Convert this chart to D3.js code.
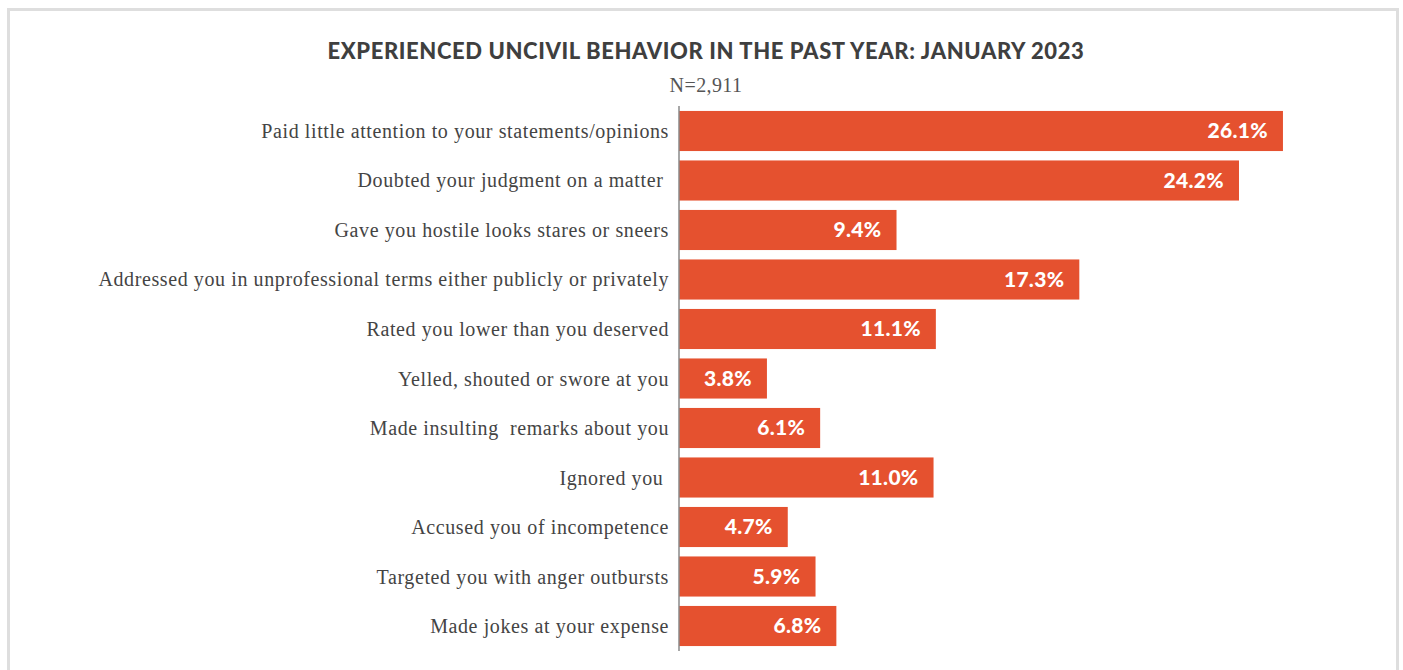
<!DOCTYPE html>
<html>
<head>
<meta charset="utf-8">
<script src="https://cdn.jsdelivr.net/npm/d3@7/dist/d3.min.js"></script>
<style>
  html, body { margin: 0; padding: 0; background: #ffffff; }
  svg { display: block; }
</style>
</head>
<body>
<svg id="chart" width="1403" height="670"></svg>
<script>
// Survey responses: share who experienced each uncivil behavior (%)
const categories = [
  "Paid little attention to your statements/opinions",
  "Doubted your judgment on a matter ",
  "Gave you hostile looks stares or sneers",
  "Addressed you in unprofessional terms either publicly or privately",
  "Rated you lower than you deserved",
  "Yelled, shouted or swore at you",
  "Made insulting  remarks about you",
  "Ignored you ",
  "Accused you of incompetence",
  "Targeted you with anger outbursts",
  "Made jokes at your expense"
];
const values = [26.1, 24.2, 9.4, 17.3, 11.1, 3.8, 6.1, 11.0, 4.7, 5.9, 6.8];
const titleText = "EXPERIENCED UNCIVIL BEHAVIOR IN THE PAST YEAR: JANUARY 2023";
const subtitleText = "N=2,911";

const W = 1403, H = 670;
const svg = d3.select("#chart");

// outer frame
svg.append("rect")
  .attr("x", 8.5).attr("y", 9.5)
  .attr("width", 1389).attr("height", 700)
  .attr("fill", "none")
  .attr("stroke", "#dedede")
  .attr("stroke-width", 3);

const x0 = 679;
const x = d3.scaleLinear().domain([0, 30]).range([x0, x0 + 23.14 * 30]);
const y = d3.scaleBand().domain(categories).range([106, 651])
  .paddingInner(0.19).paddingOuter(0.1);

// title
svg.append("text")
  .attr("x", 706).attr("y", 59)
  .attr("text-anchor", "middle")
  .attr("font-family", "Lato, 'Open Sans', sans-serif")
  .attr("font-weight", 900)
  .attr("font-size", 22)
  .attr("letter-spacing", 0.6)
  .attr("fill", "#3f3f3f")
  .text(titleText);

svg.append("text")
  .attr("x", 706).attr("y", 92)
  .attr("text-anchor", "middle")
  .attr("font-family", "'Liberation Serif', 'DejaVu Serif', serif")
  .attr("font-size", 20)
  .attr("letter-spacing", 0.4)
  .attr("fill", "#555")
  .text(subtitleText);

// bars
svg.append("g").selectAll("rect")
  .data(values)
  .join("rect")
  .attr("x", x(0))
  .attr("y", (d, i) => y(categories[i]))
  .attr("width", d => x(d) - x(0))
  .attr("height", y.bandwidth())
  .attr("fill", "#e5512f");

// value labels inside bars
svg.append("g").selectAll("text")
  .data(values)
  .join("text")
  .attr("x", d => x(d) - 15)
  .attr("y", (d, i) => y(categories[i]) + y.bandwidth() / 2)
  .attr("dy", "0.35em")
  .attr("text-anchor", "end")
  .attr("font-family", "Lato, 'Open Sans', sans-serif")
  .attr("font-weight", 900)
  .attr("font-size", 21)
  .attr("letter-spacing", 0.3)
  .attr("fill", "#ffffff")
  .text(d => d.toFixed(1) + "%");

// category axis
const axis = d3.axisLeft(y).tickSize(0).tickPadding(10);
const gAxis = svg.append("g")
  .attr("transform", `translate(${x0},0)`)
  .call(axis);
gAxis.select(".domain")
  .attr("d", "M0,106V651")
  .attr("stroke", "#8a8a8a")
  .attr("stroke-width", 1.5);
gAxis.selectAll(".tick text")
  .attr("font-family", "'Liberation Serif', 'DejaVu Serif', serif")
  .attr("font-size", 20)
  .attr("letter-spacing", 0.6)
  .attr("fill", "#444")
  .attr("dy", "0.35em")
  .style("white-space", "pre");
</script>
</body>
</html>
